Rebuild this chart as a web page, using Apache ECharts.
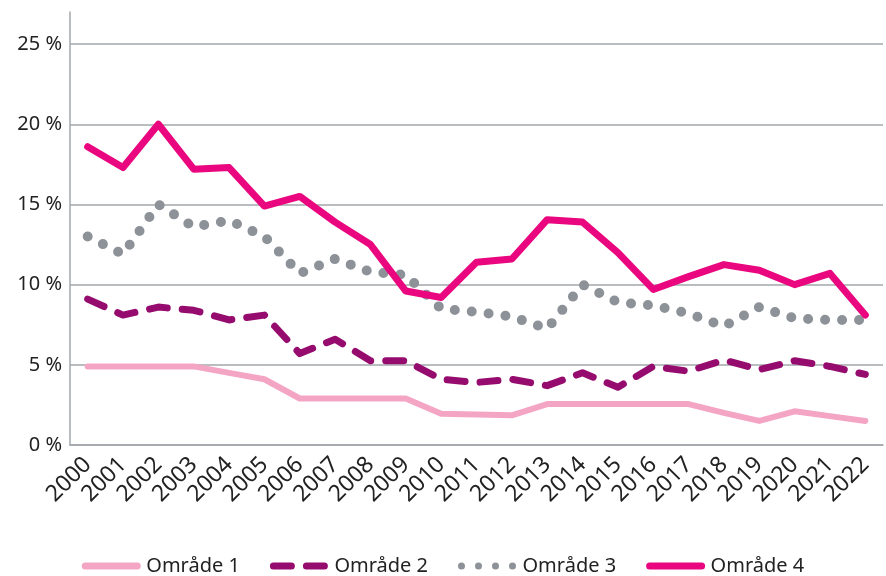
<!DOCTYPE html>
<html>
<head>
<meta charset="utf-8">
<script src="https://cdn.jsdelivr.net/npm/echarts@6/dist/echarts.min.js"></script>
<style>
  html, body { margin: 0; padding: 0; background: #fff; }
  #chart { width: 886px; height: 576px; }
</style>
</head>
<body>
<div id="chart"></div>
<script>
  const years = ['2000','2001','2002','2003','2004','2005','2006','2007','2008','2009','2010',
    '2011','2012','2013','2014','2015','2016','2017','2018','2019','2020','2021','2022']
  const omrade1 = [4.9, 4.9, 4.9, 4.9, 4.5, 4.1, 2.9, 2.9, 2.9, 2.9, 1.95, 1.9, 1.85, 2.55, 2.55, 2.55, 2.55, 2.55, 2.0, 1.5, 2.1, 1.8, 1.5]
  const omrade2 = [9.1, 8.1, 8.6, 8.4, 7.8, 8.1, 5.7, 6.6, 5.25, 5.25, 4.1, 3.9, 4.1, 3.7, 4.5, 3.6, 4.9, 4.6, 5.3, 4.7, 5.25, 4.9, 4.4]
  const omrade3 = [13.0, 11.9, 15.0, 13.6, 14.0, 13.0, 10.7, 11.6, 10.8, 10.6, 8.5, 8.3, 8.0, 7.25, 10.0, 8.9, 8.7, 8.2, 7.4, 8.6, 7.9, 7.8, 7.8]
  const omrade4 = [18.6, 17.3, 20.0, 17.2, 17.3, 14.9, 15.5, 13.9, 12.5, 9.6, 9.2, 11.4, 11.6, 14.05, 13.9, 12.0, 9.7, 10.5, 11.25, 10.9, 10.0, 10.7, 8.1]
  const yTicks = [0, 5, 10, 15, 20, 25]

  const font = '"Noto Sans", sans-serif'
  const chart = echarts.init(document.getElementById('chart'))

  chart.setOption({
    backgroundColor: '#fff',
    animation: false,
    textStyle: { fontFamily: font },
    grid: { left: 70, right: 3, top: 12, bottom: 131 },
    legend: {
      top: 551,
      left: 'center',
      itemWidth: 52,
      itemHeight: 14,
      itemGap: 30,
      itemStyle: { opacity: 0 },
      lineStyle: { width: 7 },
      textStyle: { fontSize: 20, color: '#222', fontFamily: font, padding: [0, 0, 0, 4] },
      data: ['Område 1', 'Område 2', 'Område 3', 'Område 4']
    },
    xAxis: {
      type: 'category',
      data: years,
      boundaryGap: true,
      axisLine: { lineStyle: { color: '#a3a7ab', width: 1.5 } },
      axisTick: { show: false },
      axisLabel: { rotate: 45, fontSize: 23, color: '#222', margin: 16, interval: 0 }
    },
    yAxis: {
      type: 'value',
      min: 0,
      max: 27,
      interval: 5,
      axisLine: { show: true, lineStyle: { color: '#a3a7ab', width: 1.5 } },
      axisTick: { show: false },
      axisLabel: {
        fontSize: 20, color: '#222', margin: 8, showMaxLabel: false,
        formatter: v => yTicks.includes(v) ? v + ' %' : ''
      },
      splitLine: { show: true, showMaxLine: false, lineStyle: { color: '#a3a7ab', width: 1.5 } }
    },
    series: [
      {
        name: 'Område 1', type: 'line', data: omrade1, symbol: 'none',
        color: '#f4a5c4',
        lineStyle: { width: 6, color: '#f4a5c4', cap: 'round', join: 'round' }
      },
      {
        name: 'Område 2', type: 'line', data: omrade2, symbol: 'none',
        color: '#960c6e',
        lineStyle: { width: 7, color: '#960c6e', type: [18, 15], cap: 'round', join: 'round' }
      },
      {
        name: 'Område 3', type: 'line', data: omrade3, symbol: 'none',
        color: '#8d9299',
        lineStyle: { width: 10, color: '#8d9299', type: [0, 17], cap: 'round', join: 'round' }
      },
      {
        name: 'Område 4', type: 'line', data: omrade4, symbol: 'none',
        color: '#ea067e',
        lineStyle: { width: 7, color: '#ea067e', cap: 'round', join: 'round' }
      }
    ]
  })
</script>
</body>
</html>
